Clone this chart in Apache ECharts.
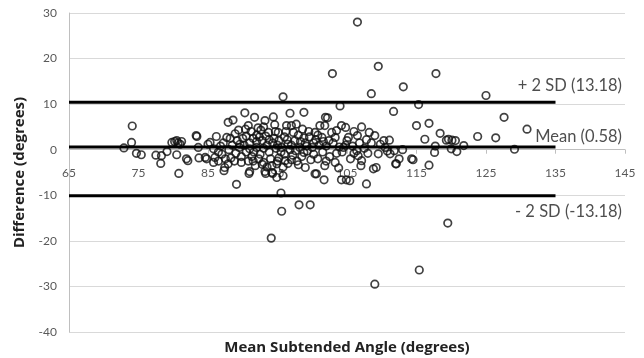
<!DOCTYPE html>
<html>
<head>
<meta charset="utf-8">
<script src="https://cdn.jsdelivr.net/npm/echarts@6/dist/echarts.min.js"></script>
<style>
  html, body { margin: 0; padding: 0; background: #fff; }
  #chart { width: 644px; height: 358px; }
</style>
</head>
<body>
<div id="chart"></div>
<script>
// x = mean subtended angle, y = difference (degrees)
const points = [
  [72.9,0.4],[74.1,5.2],[74.0,1.6],[74.7,-0.8],[75.4,-1.1],[77.5,-1.2],[78.3,-1.3],[78.2,-3.0],
  [79.1,-0.4],[79.8,1.6],[80.5,2.0],[81.0,1.2],[80.7,1.5],[80.2,1.8],[81.2,1.8],[80.5,-1.1],
  [80.8,-5.2],[82.1,-2.4],[83.4,2.9],[83.6,0.5],[83.7,-1.8],[84.6,-1.7],[81.9,-2.0],
  [85.0,1.2],[85.3,1.6],[86.2,2.9],[85.8,0.2],[86.0,-1.7],[85.8,-2.8],[84.8,-2.0],[83.3,3.1],
  [86.5,-0.5],[86.8,0.8],[87.0,-1.0],[87.2,1.5],[87.7,2.7],[87.9,6.0],[88.6,6.5],[89.4,4.3],
  [87.4,-3.9],[87.3,-4.6],[87.9,-3.1],[89.1,-7.6],[88.0,0.0],[88.3,-1.8],[88.5,1.0],[89.0,-0.8],
  [89.5,0.5],[89.2,2.0],[88.8,-2.5],[87.5,-2.0],[86.5,-2.5],[89.8,-1.5],
  [90.3,8.1],[90.9,-5.2],[91.7,7.1],[93.2,6.4],[94.4,7.2],[90.8,5.3],[94.6,5.5],[93.3,-5.2],
  [94.3,-5.2],[94.9,-3.1],[94.9,-6.1],[95.8,-5.7],[95.5,-9.5],[96.8,8.0],[98.8,8.2],[97.7,5.6],
  [96.3,5.3],[97.0,5.3],[95.1,3.8],[93.7,3.8],[92.6,4.3],[91.0,-4.8],[93.2,-4.8],[94.2,-5.0],
  [96.1,-2.4],[99.0,-3.9],[100.6,-5.3],[101.7,-6.6],[101.8,-3.5],[90.5,3.0],[91.0,1.5],[91.5,2.5],
  [92.0,0.5],[92.5,-1.0],[91.3,-1.5],[90.5,-0.5],[90.8,-2.5],[92.0,3.2],[92.8,2.0],[93.5,1.0],
  [93.8,-0.5],[94.0,-2.0],[93.0,-2.8],[94.5,2.5],[95.0,1.0],[95.5,-0.5],[95.2,-1.8],[96.0,2.8],
  [96.5,1.2],[96.8,0.0],[97.2,-1.2],[97.5,2.0],[98.0,3.2],[98.2,0.5],[98.5,-1.5],[99.0,1.5],
  [99.3,-0.3],[99.6,2.8],[97.8,-2.5],[96.5,-3.0],[91.8,-3.5],[92.2,4.8],[93.0,5.0],[91.2,4.0],
  [90.2,1.0],[92.3,-2.0],[94.8,0.3],[96.2,4.0],[97.3,3.8],[98.6,4.5],[99.5,4.0],[100.0,0.5],
  [100.2,-1.0],[99.8,-2.2],[98.0,-3.3],[94.2,-3.5],[93.5,-3.8],[95.8,-3.8],
  [88.2,2.5],[88.9,3.5],[89.6,1.2],[90.0,2.5],[90.4,4.5],[91.0,0.2],[91.6,-0.5],[92.0,1.8],
  [92.4,2.8],[93.0,0.3],[93.3,3.0],[93.8,2.2],[94.3,1.5],[94.7,4.0],[95.2,2.0],[95.6,0.5],
  [96.0,-1.0],[96.4,2.2],[97.0,1.0],[97.6,-0.2],[98.3,1.8],[98.8,2.6],[99.2,0.8],[100.2,1.5],
  [89.8,-2.8],[91.5,-2.5],[92.8,-3.2],[95.0,-2.5],[97.0,-2.2],[98.8,-0.6],
  [100.4,3.8],[101.1,5.3],[101.8,5.3],[102.2,7.0],[104.2,5.3],[101.4,2.7],[103.3,2.7],[101.9,7.1],
  [104.8,4.9],[103.3,-2.8],[104.2,-6.6],[105.4,-6.8],[104.9,-6.6],[100.4,-5.3],[105.2,2.7],[106.5,3.1],
  [108.2,3.8],[109.0,3.1],[107.1,5.0],[104.5,0.5],[104.3,-0.5],[104.8,1.0],[106.4,-0.2],[106.6,-1.3],
  [107.1,-2.4],[107.0,-3.5],[108.8,-4.2],[109.2,-3.9],[107.8,-7.5],[109.5,-0.9],[109.8,1.2],[110.3,2.0],
  [110.5,0.5],[111.1,2.1],[111.2,-0.9],[111.8,-0.2],[112.1,-3.1],[112.5,-2.0],[101.0,1.0],[101.5,-0.5],
  [102.0,0.8],[102.5,-1.5],[103.0,1.5],[103.5,-0.8],[102.8,3.8],[100.8,-2.0],[102.0,-2.5],[105.8,0.8],
  [106.0,-0.8],[107.5,0.3],[108.0,-0.8],[108.5,1.5],[107.8,2.2],[105.5,-2.0],[103.8,-4.0],[100.5,2.2],
  [100.8,3.2],[101.6,1.8],[102.4,2.0],[103.5,4.2],[105.0,2.0],[106.0,4.0],[106.8,1.5],[103.9,0.6],
  [111.7,8.4],[115.3,9.9],[113.1,13.8],[108.5,12.3],[109.5,18.3],[106.5,28.0],[102.9,16.7],[117.8,16.7],
  [104.0,9.6],[115.0,5.3],[116.8,5.8],[116.2,2.3],[118.4,3.6],[117.6,-0.6],[120.8,-0.4],[121.8,0.9],
  [114.3,-2.0],[116.8,-3.4],[112.0,-3.1],[119.3,2.1],[119.6,2.3],[120.1,2.1],[120.6,2.0],[120.0,0.2],
  [117.7,0.8],[114.5,-2.2],[113.0,0.0],[110.8,-0.3],
  [123.8,2.9],[125.0,11.9],[126.4,2.6],[127.6,7.1],[129.1,0.1],[130.9,4.5],
  [95.6,-13.5],[98.1,-12.1],[99.7,-12.1],[94.1,-19.4],[119.5,-16.1],[115.4,-26.4],[109.0,-29.5],[95.8,11.6]
];

// reference lines as drawn (start/end of x range, level)
const lineRange = [65, 135];
const upperLine = 10.4;
const meanLine = 0.58;
const lowerLine = -10.1;
const lineLabels = ['+ 2 SD (13.18)', 'Mean (0.58)', '- 2 SD (-13.18)'];

const xTicks = { min: 65, max: 145, step: 10 };
const yTicks = { min: -40, max: 30, step: 10 };

const chart = echarts.init(document.getElementById('chart'));

const hLine = (y) => ({
  type: 'line',
  data: [[lineRange[0], y], [lineRange[1], y]],
  symbol: 'none',
  lineStyle: { color: '#000', width: 3 },
  z: 5,
  silent: true
});

const labelOffsets = [-17, -10, 16];
const labelData = [upperLine, meanLine, lowerLine].map((y, i) => ({
  value: [xTicks.max, y],
  label: {
    formatter: lineLabels[i],
    offset: [0, labelOffsets[i]]
  }
}));

chart.setOption({
  animation: false,
  grid: { left: 69, right: 19, top: 13, bottom: 26, containLabel: false, outerBoundsMode: 'none' },
  graphic: [{
    type: 'text',
    x: 347,
    y: 348,
    style: {
      text: 'Mean Subtended Angle (degrees)',
      font: 'bold 15px "Open Sans"',
      fill: '#222',
      align: 'center',
      verticalAlign: 'middle'
    }
  }],
  xAxis: {
    type: 'value',
    min: xTicks.min,
    max: xTicks.max,
    interval: xTicks.step,
    axisLine: { show: true, onZero: false, lineStyle: { color: '#bfbfbf' } },
    axisTick: { show: true, inside: false, length: 4, lineStyle: { color: '#bfbfbf' } },
    axisLabel: { color: '#595959', fontFamily: 'Lato', fontSize: 12, margin: 17 },
    splitLine: { show: false }
  },
  yAxis: {
    type: 'value',
    min: yTicks.min,
    max: yTicks.max,
    interval: yTicks.step,
    name: 'Difference (degrees)',
    nameLocation: 'middle',
    nameGap: 40,
    nameTextStyle: { fontFamily: 'Open Sans', fontWeight: 'bold', fontSize: 15, color: '#222' },
    axisLine: { show: true, lineStyle: { color: '#bfbfbf' } },
    axisTick: { show: false },
    axisLabel: { color: '#595959', fontFamily: 'Lato', fontSize: 12, margin: 12 },
    splitLine: { show: true, lineStyle: { color: '#d9d9d9', width: 1 } }
  },
  series: [
    {
      type: 'scatter',
      data: points,
      symbol: 'circle',
      symbolSize: 7.5,
      itemStyle: { color: 'rgba(0,0,0,0)', borderColor: '#111', borderWidth: 1.7 },
      z: 3
    },
    hLine(upperLine),
    hLine(meanLine),
    hLine(lowerLine),
    {
      type: 'scatter',
      data: labelData,
      symbolSize: 0,
      silent: true,
      label: {
        show: true,
        position: 'left',
        distance: 3,
        color: '#222',
        fontFamily: 'Lato',
        fontSize: 16.5
      },
      z: 6
    }
  ]
});

// horizontal axis crosses the vertical one at 0 (as in the original spreadsheet chart)
const zeroY = chart.convertToPixel({ yAxisIndex: 0 }, 0);
const bottomY = chart.convertToPixel({ yAxisIndex: 0 }, yTicks.min);
chart.setOption({ xAxis: { offset: zeroY - bottomY } });
</script>
</body>
</html>
